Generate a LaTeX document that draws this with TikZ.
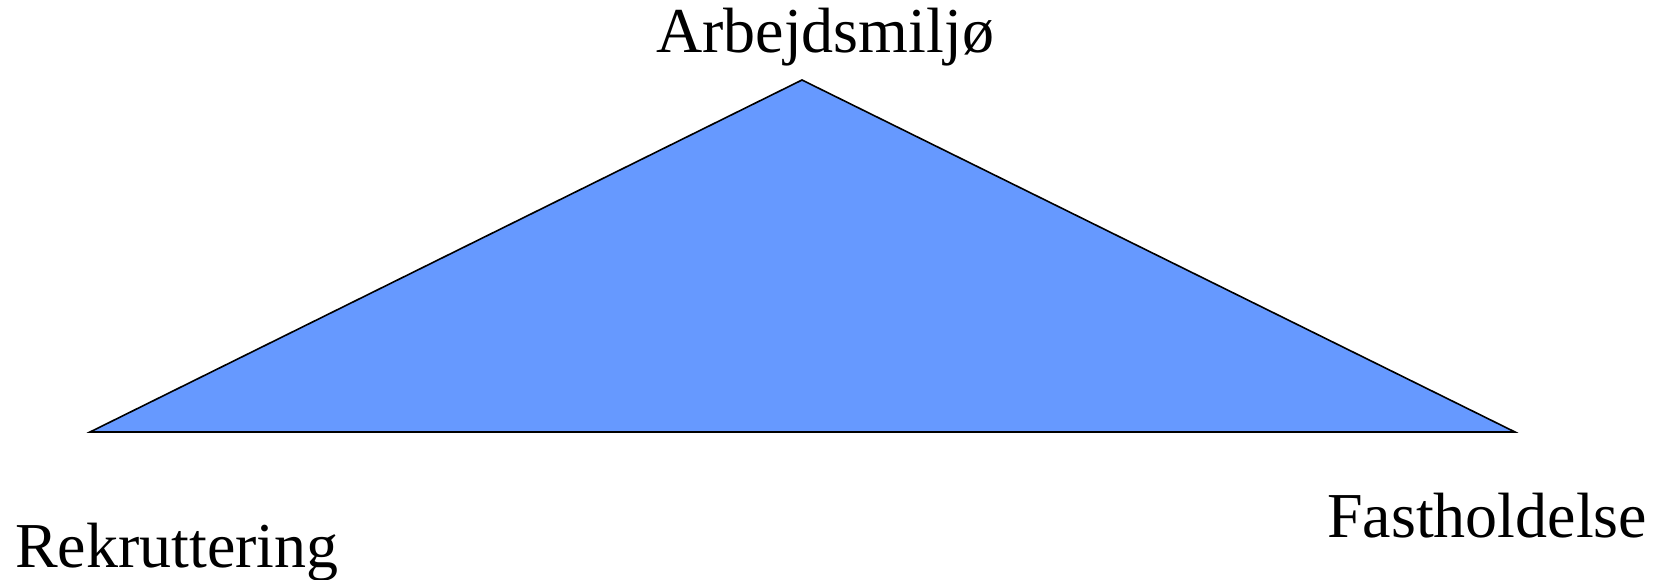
\documentclass[tikz,border=0pt]{standalone}
\usepackage{fontspec}
\setmainfont{Liberation Serif}
\definecolor{trifill}{HTML}{6699FF}
\begin{document}
\begin{tikzpicture}[x=1pt,y=-1pt,
  lbl/.style={inner sep=0pt,anchor=base west,font=\fontsize{64}{70}\selectfont},
  tri/.style={draw=black,fill=trifill,line width=1.6pt,line join=miter}]
\useasboundingbox (0,0) rectangle (1661,580);
\coordinate (top) at (802,80);
\coordinate (left) at (90,432);
\coordinate (right) at (1515,432);
\draw[tri] (left) -- (top) -- (right) -- cycle;
\node[lbl] (arb) at (656,53) {Arbejdsmiljø};
\node[lbl] (rek) at (15,567) {Rekruttering};
\node[lbl] (fast) at (1327,537) {Fastholdelse};
\end{tikzpicture}
\end{document}
